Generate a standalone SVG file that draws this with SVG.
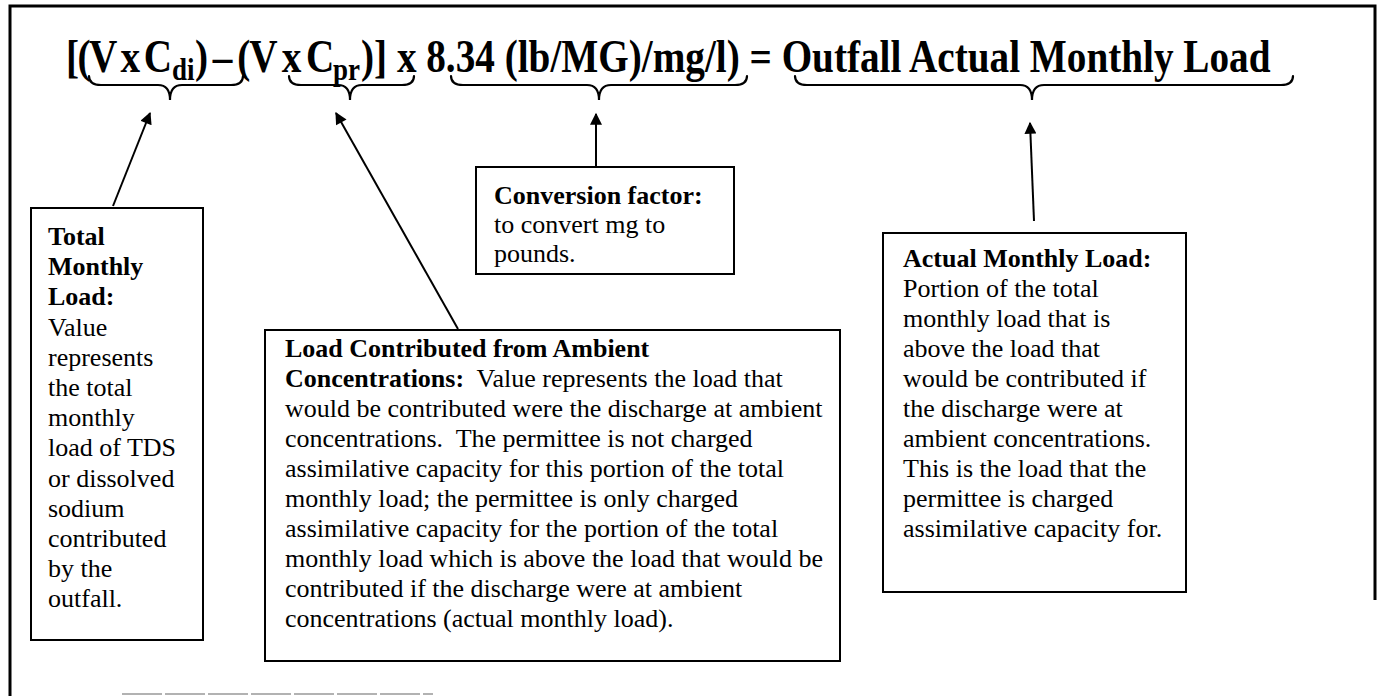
<svg xmlns="http://www.w3.org/2000/svg" width="1382" height="696" viewBox="0 0 1382 696">
<style>
.frame{fill:none;stroke:#000;stroke-width:3}
.box{fill:#fff;stroke:#000;stroke-width:2}
.brace{fill:none;stroke:#000;stroke-width:2.2;stroke-linecap:round}
.conn{fill:none;stroke:#000;stroke-width:2}
.f{font-family:"Liberation Serif","Times New Roman",serif;font-weight:bold;font-size:39.2px;fill:#000}
.sub{font-size:27px}
.t{font-family:"Liberation Serif","Times New Roman",serif;font-size:26px;fill:#000}
.b{font-weight:bold}
</style>
<defs>
<marker id="ah" viewBox="0 0 10 10" refX="9" refY="5" markerWidth="6.5" markerHeight="6" orient="auto" markerUnits="strokeWidth">
<path d="M0,0 L10,5 L0,10 z" fill="#000"/>
</marker>
</defs>
<rect width="1382" height="696" fill="#fff"/>
<path class="frame" d="M10,696 V6 H1375 V600"/>
<line x1="122" y1="694" x2="433" y2="694" stroke="#999" stroke-width="1.5" stroke-dasharray="40,3"/>

<g id="formula" transform="scale(1,1.2)">
<text class="f" y="60" xml:space="preserve"><tspan x="66" style="letter-spacing:-1.5px;word-spacing:-3px">[(V x C</tspan><tspan class="sub" x="172" dy="6.5">di</tspan><tspan x="195" dy="-6.5" style="letter-spacing:-1px;word-spacing:-3px">) – (V x C</tspan><tspan class="sub" x="333" dy="6.5">pr</tspan><tspan x="361" dy="-6.5">)] x 8.34 (lb/MG)/mg/l) = Outfall Actual Monthly Load</tspan></text>
</g>

<g id="braces">
<path class="brace" d="M89,76 Q89,85 101,85 L158,85 Q170,85 170,100 Q170,85 182,85 L231,85 Q243,85 243,76"/>
<path class="brace" d="M289,76 Q289,85 301,85 L338,85 Q350,85 350,100 Q350,85 362,85 L402,85 Q414,85 414,76"/>
<path class="brace" d="M451,76 Q451,85 463,85 L587,85 Q599,85 599,100 Q599,85 611,85 L735,85 Q747,85 747,76"/>
<path class="brace" d="M795,76 Q795,85 807,85 L1020,85 Q1032,85 1032,100 Q1032,85 1044,85 L1281,85 Q1293,85 1293,76"/>
</g>

<g id="connectors">
<line class="conn" x1="113" y1="206" x2="150" y2="113" marker-end="url(#ah)"/>
<line class="conn" x1="458" y1="329" x2="336" y2="113" marker-end="url(#ah)"/>
<line class="conn" x1="596" y1="167" x2="596" y2="114" marker-end="url(#ah)"/>
<line class="conn" x1="1034" y1="221" x2="1030" y2="123" marker-end="url(#ah)"/>
</g>

<g id="total-monthly-load">
<rect class="box" x="31" y="208" width="172" height="432"/>
<text class="t" x="48">
<tspan class="b" x="48" y="245">Total</tspan>
<tspan class="b" x="48" y="275">Monthly</tspan>
<tspan class="b" x="48" y="305">Load:</tspan>
<tspan x="48" y="336">Value</tspan>
<tspan x="48" y="366">represents</tspan>
<tspan x="48" y="396">the total</tspan>
<tspan x="48" y="426">monthly</tspan>
<tspan x="48" y="456">load of TDS</tspan>
<tspan x="48" y="487">or dissolved</tspan>
<tspan x="48" y="517">sodium</tspan>
<tspan x="48" y="547">contributed</tspan>
<tspan x="48" y="577">by the</tspan>
<tspan x="48" y="607">outfall.</tspan>
</text>
</g>

<g id="load-ambient">
<rect class="box" x="265" y="330" width="575" height="331"/>
<text class="t" x="285">
<tspan class="b" x="285" y="357">Load Contributed from Ambient</tspan>
<tspan class="b" x="285" y="387">Concentrations:</tspan><tspan>&#160; Value represents the load that</tspan>
<tspan x="285" y="417">would be contributed were the discharge at ambient</tspan>
<tspan x="285" y="447">concentrations.&#160; The permittee is not charged</tspan>
<tspan x="285" y="477">assimilative capacity for this portion of the total</tspan>
<tspan x="285" y="507">monthly load; the permittee is only charged</tspan>
<tspan x="285" y="537">assimilative capacity for the portion of the total</tspan>
<tspan x="285" y="567">monthly load which is above the load that would be</tspan>
<tspan x="285" y="597">contributed if the discharge were at ambient</tspan>
<tspan x="285" y="627">concentrations (actual monthly load).</tspan>
</text>
</g>

<g id="conversion-factor">
<rect class="box" x="476" y="167" width="258" height="107"/>
<text class="t" x="494">
<tspan class="b" x="494" y="204">Conversion factor:</tspan>
<tspan x="494" y="233">to convert mg to</tspan>
<tspan x="494" y="262">pounds.</tspan>
</text>
</g>

<g id="actual-monthly-load">
<rect class="box" x="883" y="233" width="303" height="359"/>
<text class="t" x="903">
<tspan class="b" x="903" y="267">Actual Monthly Load:</tspan>
<tspan x="903" y="297">Portion of the total</tspan>
<tspan x="903" y="327">monthly load that is</tspan>
<tspan x="903" y="357">above the load that</tspan>
<tspan x="903" y="387">would be contributed if</tspan>
<tspan x="903" y="417">the discharge were at</tspan>
<tspan x="903" y="447">ambient concentrations.</tspan>
<tspan x="903" y="477">This is the load that the</tspan>
<tspan x="903" y="507">permittee is charged</tspan>
<tspan x="903" y="537">assimilative capacity for.</tspan>
</text>
</g>
</svg>
